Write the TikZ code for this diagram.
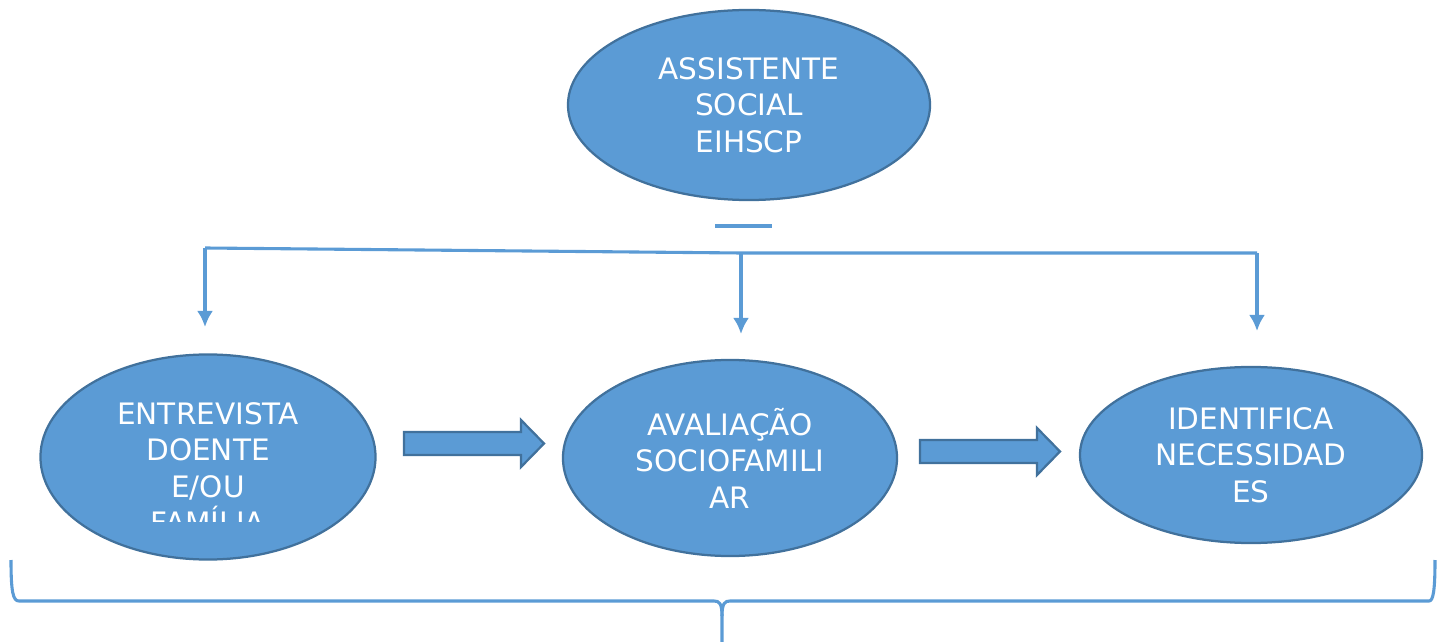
\documentclass[tikz,border=0pt]{standalone}
\usepackage{fontspec}
\setmainfont{DejaVu Sans}
\usetikzlibrary{shapes,arrows.meta}

\definecolor{boxblue}{HTML}{5B9BD5}
\definecolor{edgeblue}{HTML}{41719C}

\begin{document}
\begin{tikzpicture}[x=0.025cm,y=-0.025cm,
                every path/.style={>={Latex[length=0.4cm,width=0.4cm]}},
                bubble/.style={draw=edgeblue,fill=boxblue,ellipse,line width=1.6pt,inner sep=0pt,
                  text=white,align=center,font=\fontsize{21}{26}\selectfont},
                bubbletext/.style={text=white,align=center,inner sep=0pt,font=\fontsize{21}{26}\selectfont},
                blockarrow/.style={draw=edgeblue,fill=boxblue,line width=1.6pt,line join=miter},
                link/.style={draw=boxblue,line width=2.2pt}]
  \useasboundingbox (0,0) rectangle (1447,642);
  \node[bubble,minimum width=9.05cm,minimum height=4.75cm] (as) at (749,105) {ASSISTENTE\\SOCIAL\\EIHSCP};
  \node[bubble,minimum width=8.375cm,minimum height=5.125cm] (ent) at (208,457) {};
  \begin{scope}
    \clip (41,355) rectangle (376,521);
    \node[bubbletext] (enttxt) at (208,468) {ENTREVISTA\\DOENTE\\E/OU\\FAMÍLIA};
  \end{scope}
  \node[bubble,minimum width=8.35cm,minimum height=4.9cm] (aval) at (730,458) {AVALIAÇÃO\\SOCIOFAMILI\\AR};
  \node[bubble,minimum width=8.55cm,minimum height=4.4cm] (ident) at (1251,455) {IDENTIFICA\\NECESSIDAD\\ES};
  % setas largas
  \draw[blockarrow,shift={(404,443.5)}] (0,-11.5) -- (117,-11.5) -- (117,-23.5) -- (140,0)
        -- (117,23.5) -- (117,11.5) -- (0,11.5) -- cycle;
  \draw[blockarrow,shift={(920,451.5)}] (0,-11.5) -- (117,-11.5) -- (117,-23.5) -- (140,0)
        -- (117,23.5) -- (117,11.5) -- (0,11.5) -- cycle;
  % ramificacao
  \coordinate (dash1) at (715,226);
  \coordinate (dash2) at (772,226);
  \coordinate (jl) at (205,248);
  \coordinate (jm) at (741,253);
  \coordinate (jr) at (1257,253);
  \coordinate (tl) at (205,327);
  \coordinate (tm) at (741,334);
  \coordinate (tr) at (1257,331);
  \draw[link] (dash1) -- (dash2);
  \draw[link] (jl) -- (jm) -- (jr);
  \draw[link,->] (jl) -- (tl);
  \draw[link,->] (jm) -- (tm);
  \draw[link,->] (jr) -- (tr);
  % chaveta
  \draw[link] (11,560) .. controls (11,592) and (13,601) .. (19,601) -- (714,601)
              .. controls (719,601) and (722,603) .. (722,616) -- (722,642);
  \draw[link] (722,616) .. controls (722,603) and (725,601) .. (730,601) -- (1429,601)
              .. controls (1433,601) and (1435,592) .. (1435,560);
\end{tikzpicture}
\end{document}
